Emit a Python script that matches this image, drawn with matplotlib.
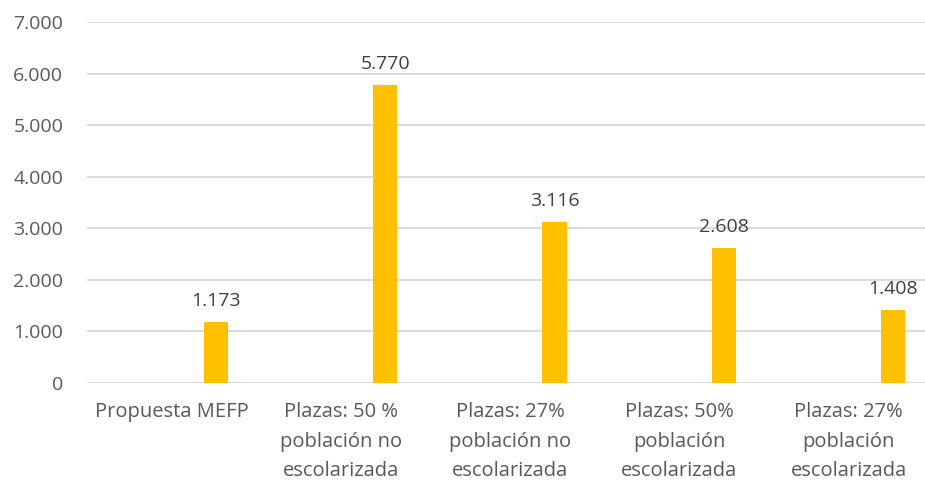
import matplotlib.pyplot as plt
import numpy as np

categories = [
    "Propuesta MEFP",
    "Plazas: 50 %\npoblación no\nescolarizada",
    "Plazas: 27%\npoblación no\nescolarizada",
    "Plazas: 50%\npoblación\nescolarizada",
    "Plazas: 27%\npoblación\nescolarizada",
]
values = [1173, 5770, 3116, 2608, 1408]
value_labels = ["1.173", "5.770", "3.116", "2.608", "1.408"]
yticks = [0, 1000, 2000, 3000, 4000, 5000, 6000, 7000]
ytick_labels = ["0", "1.000", "2.000", "3.000", "4.000", "5.000", "6.000", "7.000"]

plt.rcParams['font.family'] = ['Open Sans', 'DejaVu Sans']

fig = plt.figure(figsize=(9.25, 4.84), dpi=100)
ax = fig.add_axes([0.094, 0.209, 0.915, 0.7455])

x = np.arange(len(categories))
# second series of a two-series group; the first one is empty
bars = ax.bar(x + 0.262, values, width=0.142, color='#FFC000', zorder=3)

for b, lab in zip(bars, value_labels):
    ax.annotate(lab, (b.get_x() + b.get_width() / 2, b.get_height()),
                xytext=(0, 9), textcoords='offset points',
                ha='center', va='bottom', fontsize=14, color='#404040')

ax.set_xlim(-0.5, len(categories) - 0.5)
ax.set_ylim(0, 7000)
ax.set_yticks(yticks)
ax.set_yticklabels(ytick_labels, fontsize=14, color='#595959')
ax.set_xticks(x)
ax.set_xticklabels(categories, fontsize=14.5, color='#595959', linespacing=1.62)
ax.tick_params(axis='both', length=0)
ax.tick_params(axis='y', pad=17)
ax.tick_params(axis='x', pad=14)

ax.grid(axis='y', color='#D9D9D9', linewidth=1.3, zorder=0)
for s in ax.spines.values():
    s.set_visible(False)

fig.savefig('out.png', dpi=100)
